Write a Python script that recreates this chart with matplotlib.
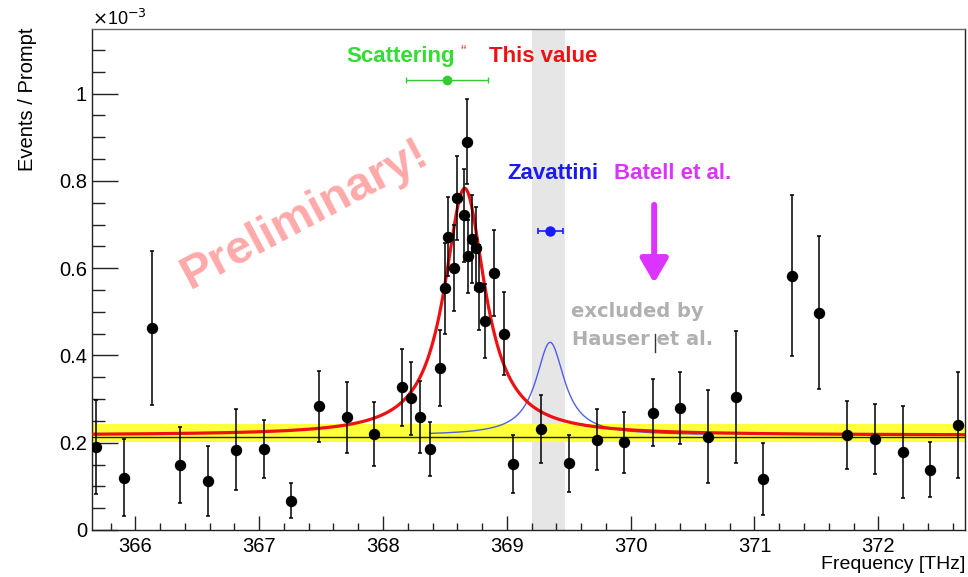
import numpy as np
import matplotlib
matplotlib.use("Agg")
import matplotlib.pyplot as plt
from matplotlib.ticker import MultipleLocator, FuncFormatter

plt.rcParams["font.family"] = ["Liberation Sans", "DejaVu Sans"]

# measured points (frequency in THz, events/prompt in units of 1e-3)
freq = [365.686, 365.910, 366.137, 366.360, 366.590, 366.810, 367.040, 367.260,
        367.480, 367.710, 367.930, 368.157, 368.230, 368.300, 368.377, 368.458,
        368.500, 368.525, 368.570, 368.597, 368.653, 368.681, 368.690, 368.720,
        368.750, 368.775, 368.826, 368.900, 368.980, 369.054, 369.277, 369.505,
        369.725, 369.950, 370.180, 370.400, 370.625, 370.850, 371.070, 371.300,
        371.520, 371.750, 371.970, 372.200, 372.420, 372.640]
events = [0.190, 0.120, 0.463, 0.148, 0.113, 0.184, 0.186, 0.067,
          0.283, 0.258, 0.220, 0.327, 0.302, 0.259, 0.186, 0.371,
          0.554, 0.672, 0.600, 0.760, 0.721, 0.890, 0.627, 0.667,
          0.646, 0.556, 0.479, 0.589, 0.450, 0.151, 0.231, 0.153,
          0.207, 0.201, 0.269, 0.279, 0.214, 0.305, 0.117, 0.583,
          0.498, 0.218, 0.208, 0.179, 0.138, 0.240]
events_err = [0.108, 0.088, 0.176, 0.087, 0.080, 0.093, 0.066, 0.040,
              0.082, 0.081, 0.073, 0.088, 0.084, 0.083, 0.062, 0.088,
              0.104, 0.090, 0.098, 0.096, 0.107, 0.098, 0.084, 0.100,
              0.095, 0.097, 0.085, 0.098, 0.095, 0.067, 0.078, 0.065,
              0.070, 0.070, 0.077, 0.083, 0.107, 0.152, 0.083, 0.185,
              0.176, 0.078, 0.080, 0.105, 0.063, 0.121]

# fit parameters (Lorentzian on flat background)
fit_center, fit_hwhm, fit_amp, fit_bkg = 368.66, 0.20, 0.566, 0.217
zav_center, zav_hwhm, zav_amp = 369.35, 0.14, 0.213
zav_range = (368.38, 370.62)

# background level and its band
bkg_level = 0.214
bkg_band = (0.2016, 0.2435)

# excluded region (Hauser et al.)
excl_band = (369.20, 369.473)

# reference values
scat_x, scat_xerr, scat_y = 368.517, 0.33, 1.031
zav_x, zav_xerr, zav_y = 369.35, 0.10, 0.686
batell_x, batell_y = (370.19, 370.19), (0.745, 0.566)


def lorentz(x, c, g, a, b):
    return b + a / (1 + ((x - c) / g) ** 2)


fig = plt.figure(figsize=(9.68, 5.77), dpi=100)
ax = fig.add_axes([0.095, 0.0815, 0.9019, 0.8682])

ax.axvspan(*excl_band, color="#e6e6e6", lw=0, zorder=0)
ax.axhspan(*bkg_band, color="#ffff3a", lw=0, zorder=1)
ax.axhline(bkg_level, color="#222222", lw=1.0, zorder=2)

xs = np.linspace(zav_range[0], zav_range[1], 400)
ax.plot(xs, lorentz(xs, zav_center, zav_hwhm, zav_amp, fit_bkg),
        color="#3344ee", lw=1.0, alpha=0.85, zorder=3)

xf = np.linspace(365.65, 372.7, 1200)
ax.plot(xf, lorentz(xf, fit_center, fit_hwhm, fit_amp, fit_bkg),
        color="#ee1111", lw=2.3, zorder=4)

ax.errorbar(freq, events, yerr=events_err, fmt="o", color="black",
            ms=7.2, elinewidth=1.1, capsize=1.6, capthick=1.1, zorder=6)

# reference points
ax.errorbar([scat_x], [scat_y], xerr=[scat_xerr], fmt="o", color="#33cc33",
            ms=6, elinewidth=1.0, capsize=2, capthick=1.0, zorder=6)
ax.errorbar([zav_x], [zav_y], xerr=[zav_xerr], fmt="o", color="#1a1aff",
            ms=6.5, elinewidth=1.2, capsize=2, capthick=1.2, zorder=6)
ax.annotate("", xy=(batell_x[1], batell_y[1]), xytext=(batell_x[0], batell_y[0]),
            arrowprops=dict(arrowstyle="-|>,head_length=0.72,head_width=0.42",
                            lw=4.3, color="#dd33ff", shrinkA=0, shrinkB=0,
                            mutation_scale=20), zorder=6)

# labels
tkw = dict(fontsize=16, fontweight="bold", ha="left", va="center")
ax.text(367.708, 1.085, "Scattering", color="#33dd33", **tkw)
ax.text(368.645, 1.095, "\u201c", color="#dd4422", fontsize=12, ha="center", va="center")
ax.text(368.853, 1.085, "This value", color="#ee1111", **tkw)
ax.text(369.008, 0.818, "Zavattini", color="#1a1aee", **tkw)
ax.text(369.868, 0.818, "Batell et al.", color="#dd33ff", **tkw)
gkw = dict(color="#b0b0b0", family="DejaVu Sans", fontsize=14,
           fontweight="bold", ha="left", va="center")
ax.text(369.519, 0.501, "excluded by", **gkw)
ax.text(369.527, 0.436, "Hauser et al.", **gkw)
ax.plot([370.195, 370.195], [0.408, 0.448], color="#333333", lw=1.0, zorder=7)
ax.text(367.37, 0.722, "Preliminary!", color="#ffaaaa", fontsize=34,
        fontweight="bold", rotation=28, ha="center", va="center",
        rotation_mode="anchor", zorder=0.5)

ax.set_xlim(365.65, 372.7)
ax.set_ylim(0, 1.148)

ax.xaxis.set_major_locator(MultipleLocator(1))
ax.xaxis.set_minor_locator(MultipleLocator(0.2))
ax.yaxis.set_major_locator(MultipleLocator(0.2))
ax.yaxis.set_minor_locator(MultipleLocator(0.05))
ax.yaxis.set_major_formatter(FuncFormatter(lambda v, p: f"{v:g}"))
ax.xaxis.set_major_formatter(FuncFormatter(lambda v, p: f"{v:g}"))

ax.tick_params(axis="both", which="both", direction="in", labelsize=14.5,
               top=False, right=False, color="#222222", width=1.0)
ax.tick_params(axis="y", which="major", length=18.7, pad=3.5)
ax.tick_params(axis="y", which="minor", length=9.4)
ax.tick_params(axis="x", which="major", length=10.1, pad=5)
ax.tick_params(axis="x", which="minor", length=5.0)
for s in ax.spines.values():
    s.set_color("#222222")
    s.set_linewidth(1.0)
ax.spines["top"].set_color("#666666")

fig.text(0.0284, 0.9515, "Events / Prompt", rotation=90, ha="center", va="top",
         fontsize=14.5)
fig.text(0.9969, 0.0139, "Frequency [THz]", ha="right", va="baseline", fontsize=14)
fig.text(0.095, 0.968, r"$\times$10$^{-3}$", ha="left", va="center",
         fontsize=13)

fig.savefig("out.png", dpi=100)
